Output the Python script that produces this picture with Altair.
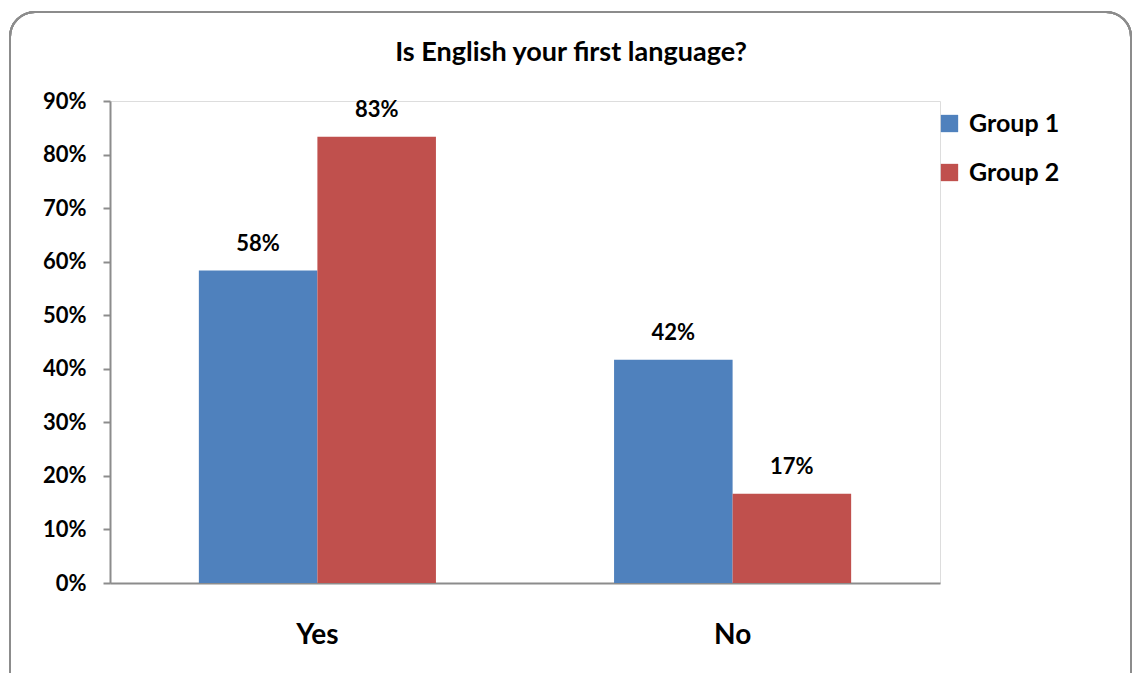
import altair as alt
import pandas as pd

categories = ["Yes", "No"]
groups = ["Group 1", "Group 2"]
group1 = [0.5833, 0.4167]
group2 = [0.8333, 0.1667]
y_ticks = [0, 0.1, 0.2, 0.3, 0.4, 0.5, 0.6, 0.7, 0.8, 0.9]

rows = []
for i, c in enumerate(categories):
    rows.append({"answer": c, "group": groups[0], "value": group1[i]})
    rows.append({"answer": c, "group": groups[1], "value": group2[i]})
df = pd.DataFrame(rows)

FONT = "Lato"
W, H = 830, 482

x = alt.X("answer:N", sort=categories, title=None,
          scale=alt.Scale(paddingInner=0.429, paddingOuter=0.214),
          axis=alt.Axis(labelAngle=0, ticks=False, grid=False, labelFontSize=28, labelFont=FONT,
                        labelFontWeight="bold", labelColor="black", labelPadding=38,
                        domainColor="#8c8c8c", domainWidth=2))
y = alt.Y("value:Q", title=None,
          scale=alt.Scale(domain=[0, 0.9], nice=False),
          axis=alt.Axis(values=y_ticks, format=".0%", grid=False, tickSize=7,
                        tickColor="#8c8c8c", tickWidth=2, domainColor="#8c8c8c", domainWidth=2,
                        labelFontSize=22, labelFont=FONT, labelFontWeight="bold",
                        labelColor="black", labelPadding=17))
xo = alt.XOffset("group:N", sort=groups, scale=alt.Scale(paddingInner=0, paddingOuter=0))

bars = alt.Chart(df).mark_bar().encode(
    x=x, y=y, xOffset=xo,
    color=alt.Color("group:N", sort=groups,
                    scale=alt.Scale(domain=groups, range=["#4F81BD", "#C0504D"]),
                    legend=alt.Legend(title=None, orient="none", legendX=827, legendY=10,
                                      symbolType="square", symbolSize=300,
                                      symbolStrokeWidth=0, labelFontSize=25,
                                      labelFont=FONT, labelFontWeight="bold",
                                      labelColor="black", rowPadding=23, labelOffset=7,
                                      padding=0, strokeColor="transparent")),
)

labels = alt.Chart(df).mark_text(dy=-15, baseline="bottom", fontSize=22, font=FONT,
                                 fontWeight="bold", color="black").encode(
    x=x, y=y, xOffset=xo, text=alt.Text("value:Q", format=".0%"))

border = alt.Chart(df).mark_rect(fill=None, stroke="#8c8c8c", strokeWidth=2,
                                 cornerRadius=25).encode(
    x=alt.value(-100), x2=alt.value(1021), y=alt.value(-89), y2=alt.value(610))

chart = alt.layer(border, bars, labels).properties(
    width=W, height=H,
    title=alt.Title("Is English your first language?", fontSize=27, font=FONT,
                    fontWeight="bold", color="black", anchor="middle", dx=46, offset=-56),
    autosize=alt.AutoSizeParams(type="none"),
    padding={"left": 110, "top": 101, "right": 1133 - 110 - W, "bottom": 673 - 101 - H},
).configure_view(stroke="transparent", strokeWidth=0, fill="white").configure(background="white")

chart.save("out.html", embed_options={"renderer": "svg", "actions": False})
